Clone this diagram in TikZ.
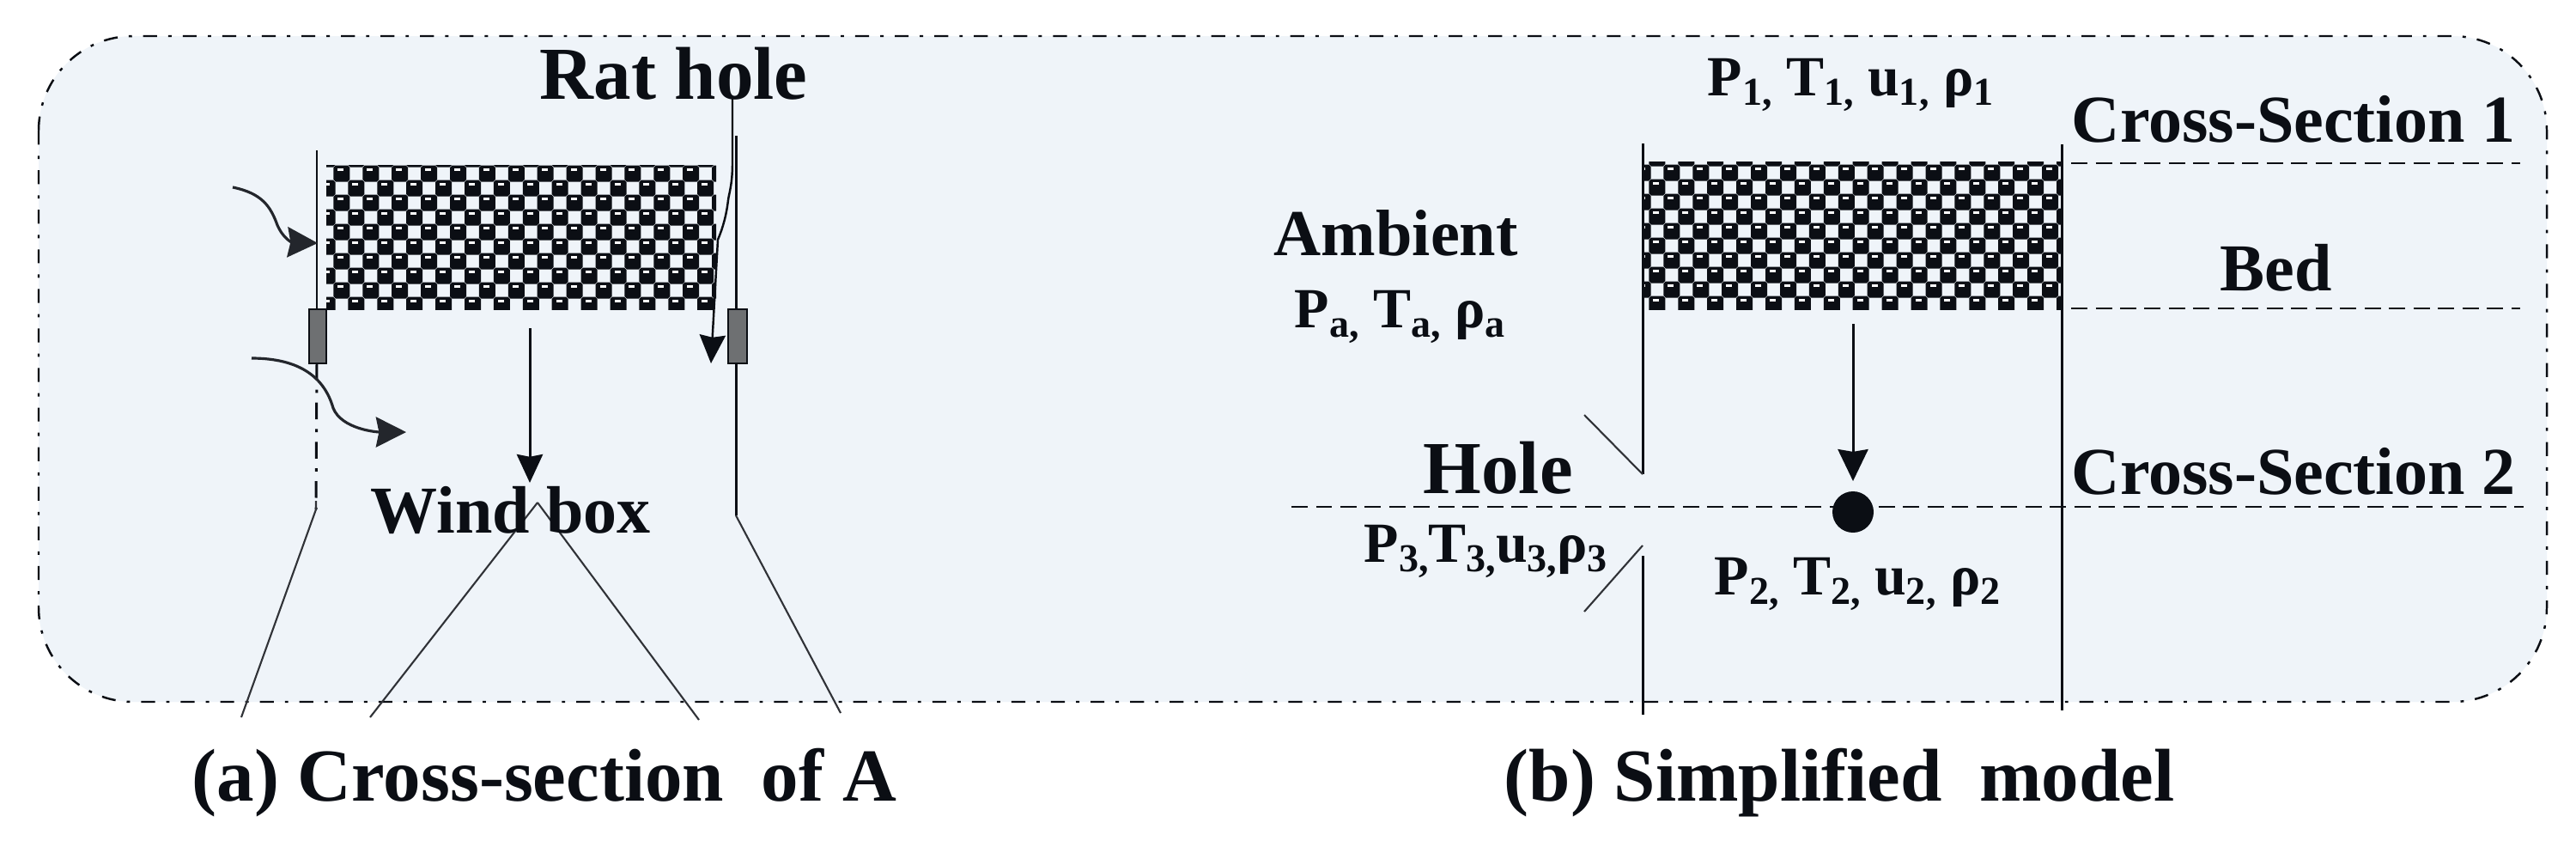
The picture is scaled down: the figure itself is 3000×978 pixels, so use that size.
\documentclass[tikz,border=0pt]{standalone}
\usepackage{fontspec}
\setmainfont{Liberation Serif}
\usetikzlibrary{arrows.meta}
\definecolor{panelbg}{HTML}{EFF4F9}
\definecolor{inkc}{HTML}{0B0E14}
\definecolor{slotc}{HTML}{6E7072}
\newcommand{\sbx}[1]{\raisebox{-3.4pt}{\fontsize{13.1}{15}\selectfont #1}}
\newcommand{\bedfill}[6]{%
  \begin{scope}
    \clip (#1,#2) rectangle (#3,#4);
    \foreach \k in {-9,...,10} {
      \pgfmathsetmacro{\yy}{#6+17*\k}
      \pgfmathsetmacro{\xo}{#5+17*mod(\k+20,2)-34}
      \foreach \i in {0,...,16} {
        \pgfmathsetmacro{\xx}{\xo+33.9*\i}
        \fill[inkc] (\xx-7,\yy-9.5) -- (\xx+7,\yy-9.5) -- (\xx+9.5,\yy-7) -- (\xx+9.5,\yy+7) -- (\xx+7,\yy+9.5) -- (\xx-7,\yy+9.5) -- (\xx-9.5,\yy+7) -- (\xx-9.5,\yy-7) -- cycle;
        \fill[white] (\xx-4.5,\yy-6) rectangle (\xx+2.5,\yy-3.5);
      }
    }
  \end{scope}}
\tikzset{
  x=0.01cm, y=-0.01cm,
  lbl/.style={inner sep=0pt, anchor=base west, text=inkc, align=left},
  t86/.style={lbl, font=\fontsize{24.75}{28}\selectfont\bfseries},
  t78/.style={lbl, font=\fontsize{22.2}{26}\selectfont\bfseries},
  t76/.style={lbl, font=\fontsize{21.7}{26}\selectfont\bfseries},
  t66/.style={lbl, font=\fontsize{18.78}{22}\selectfont\bfseries},
  wallline/.style={draw=inkc, line width=0.85pt},
  thinline/.style={draw=inkc!85!white, line width=0.6pt},
  secline/.style={draw=inkc, line width=0.8pt, dash pattern=on 5.4pt off 2.7pt},
  flowarrow/.style={draw=inkc, line width=0.85pt, -{Stealth[length=9.4pt,width=8.6pt,inset=0.8pt]}},
  curvearrow/.style={draw=inkc!90!white, line width=0.9pt, -{Stealth[length=10pt,width=10pt,inset=1pt]}},
  slot/.style={draw=inkc, fill=slotc, line width=0.7pt},
  panel/.style={draw=inkc, fill=panelbg, line width=0.7pt, rounded corners=1.1cm, dash pattern=on 4.6pt off 3.7pt on 1.1pt off 3.7pt},
}
\begin{document}
\begin{tikzpicture}
\useasboundingbox (0,0) rectangle (3000,978);
\fill[white] (0,0) rectangle (3000,978);
\draw[panel] (45,42) rectangle (2966,817);

% named points, panel (a)
\coordinate (aLT) at (369,175);  \coordinate (aLB) at (369,360);
\coordinate (aLD) at (369,423);  \coordinate (aLK) at (368,593);  \coordinate (aLE) at (281,835);
\coordinate (aRT) at (857,158);  \coordinate (aRK) at (857,600);  \coordinate (aRE) at (979,830);
\coordinate (aCT) at (617,382);  \coordinate (aCB) at (617,562);
\coordinate (apex) at (626,585); \coordinate (wbL) at (431,835);  \coordinate (wbR) at (814,838);
\coordinate (rhT) at (853,115);  \coordinate (rhM) at (848,233);  \coordinate (rhK) at (836,279); \coordinate (rhE) at (828,423);
\coordinate (c1S) at (271,218);  \coordinate (c1E) at (370,283);
\coordinate (c2S) at (293,417);  \coordinate (c2E) at (473,503);
% named points, panel (b)
\coordinate (bLT) at (1913,167); \coordinate (bLU) at (1913,552);
\coordinate (bLL) at (1913,647); \coordinate (bLE) at (1913,832);
\coordinate (bRT) at (2401,168); \coordinate (bRE) at (2401,827);
\coordinate (bCT) at (2158,377); \coordinate (bCB) at (2158,560);
\coordinate (dgA) at (1845,483); \coordinate (dgB) at (1845,712); \coordinate (dgC) at (1913,635);
\coordinate (s1L) at (2412,190); \coordinate (s1R) at (2935,190);
\coordinate (s2L) at (2412,359); \coordinate (s2R) at (2935,359);
\coordinate (s3L) at (1504,590); \coordinate (s3R) at (2939,590);

% panel (a)
\bedfill{380}{192}{834}{360}{398}{202}
\draw[wallline] (aLT) -- (aLB);
\draw[wallline] (aRT) -- (aRK);
\draw[thinline] (aRK) -- (aRE);
\draw[slot] (360,360) rectangle (380,423);
\draw[slot] (848,360) rectangle (870,423);
\draw[wallline, dash pattern=on 5.5pt off 3.2pt on 1.1pt off 3.2pt] (aLD) -- (aLK);
\draw[thinline] (368,583) -- (aLK) -- (aLE);
\draw[flowarrow] (aCT) -- (aCB);
\draw[thinline] (apex) -- (wbL);
\draw[thinline] (apex) -- (wbR);
\draw[flowarrow, line width=0.7pt] (rhT) -- (853,190) .. controls (853,215) and (849,225) .. (rhM) .. controls (846,250) and (842,265) .. (rhK) -- (rhE);
\draw[curvearrow] (c1S) .. controls (305,225) and (315,240) .. (323,262) .. controls (330,278) and (340,282) .. (c1E);
\draw[curvearrow] (c2S) .. controls (350,417) and (378,440) .. (388,475) .. controls (398,500) and (440,503) .. (c2E);

% panel (b)
\bedfill{1913}{188}{2401}{360}{1930}{320}
\draw[wallline] (bLT) -- (bLU);
\draw[wallline] (bLL) -- (bLE);
\draw[wallline] (bRT) -- (bRE);
\draw[thinline] (dgA) -- (bLU);
\draw[thinline] (dgB) -- (dgC);
\draw[secline] (s1L) -- (s1R);
\draw[secline] (s2L) -- (s2R);
\draw[secline] (s3L) -- (s3R);
\draw[flowarrow, -{Stealth[length=10.5pt,width=10pt,inset=0.8pt]}] (bCT) -- (bCB);
\fill[inkc] (2158,596) circle (24);

% labels
\node[t86] (rat) at (628,115) {Rat hole};
\node[t78] (wind) at (431,620) {Wind box};
\node[t86] (capa) at (223,932) {(a) Cross-section\ \ of A};
\node[t86] (capb) at (1751,932) {(b) Simplified\ \ model};
\node[t76] (amb) at (1483,297) {Ambient};
\node[t86] (hole) at (1657,574) {Hole};
\node[t78] (cs1) at (2412,165) {Cross-Section 1};
\node[t78] (cs2) at (2412,575) {Cross-Section 2};
\node[t78] (bed) at (2585,338) {Bed};
\node[t66] (v1) at (1988,111) {P\sbx{1,} T\sbx{1,} u\sbx{1,} ρ\sbx{1}};
\node[t66] (va) at (1507,381) {P\sbx{a,} T\sbx{a,} ρ\sbx{a}};
\node[t66] (v3) at (1588,654) {P\sbx{3,}T\sbx{3,}u\sbx{3,}ρ\sbx{3}};
\node[t66] (v2) at (1996,692) {P\sbx{2,} T\sbx{2,} u\sbx{2,} ρ\sbx{2}};
\end{tikzpicture}
\end{document}
